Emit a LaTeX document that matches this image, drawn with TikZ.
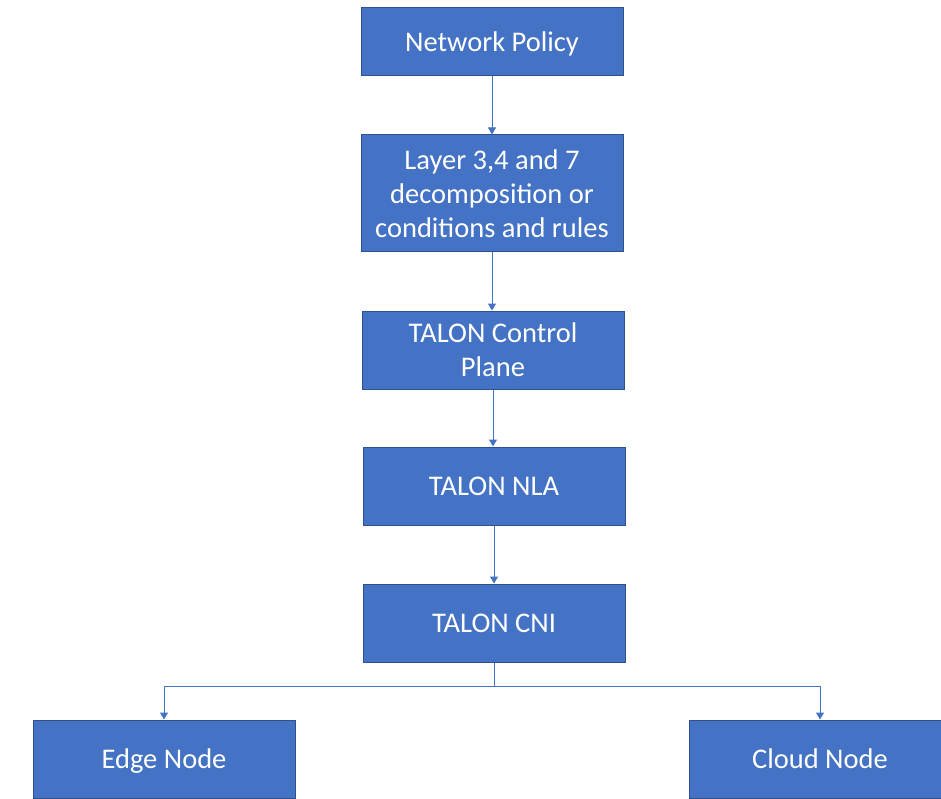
\documentclass[tikz,border=0pt]{standalone}
\usepackage{fontspec}
\setmainfont{Carlito}
\usetikzlibrary{arrows.meta}
\definecolor{boxfill}{HTML}{4472C4}
\definecolor{boxline}{HTML}{2F528F}
\definecolor{linkblue}{HTML}{4472C4}
\begin{document}
\begin{tikzpicture}[x=1pt,y=-1pt,
  stage/.style={draw=boxline, line width=1pt, fill=boxfill, text=white,
    minimum width=262pt, align=center, inner sep=0pt,
    font=\fontsize{28.5}{34}\selectfont},
  oneline/.style={text height=18.4pt, text depth=0pt},
  link/.style={draw=linkblue, line width=1pt,
    -{Triangle[width=8pt,length=7pt]}},
  plain/.style={draw=linkblue, line width=1pt}]
\useasboundingbox (0,0) rectangle (941,799);
\fill[white] (0,0) rectangle (941,799);

\node[stage, oneline, minimum height=68pt] (np) at (492,42) {Network Policy};
\node[stage, minimum height=117pt] (layer) at (492,193.5)
  {Layer 3,4 and 7\\decomposition or\\conditions and rules};
\node[stage, minimum height=78pt] (cp) at (493,350) {TALON Control\\Plane};
\node[stage, oneline, minimum height=78pt] (nla) at (494,486) {TALON NLA};
\node[stage, oneline, minimum height=78pt] (cni) at (494,623) {TALON CNI};
\node[stage, oneline, minimum height=78pt] (edge) at (164,759) {Edge Node};
\node[stage, oneline, minimum height=78pt] (cloud) at (820,759) {Cloud Node};

\coordinate (split) at (494,686);

\draw[link] (np.south) -- (np.south |- layer.north);
\draw[link] (layer.south) -- (layer.south |- cp.north);
\draw[link] (cp.south) -- (cp.south |- nla.north);
\draw[link] (nla.south) -- (nla.south |- cni.north);
\draw[plain] (cni.south) -- (split);
\draw[link] (split) -| (edge.north);
\draw[link] (split) -| (cloud.north);
\end{tikzpicture}
\end{document}
